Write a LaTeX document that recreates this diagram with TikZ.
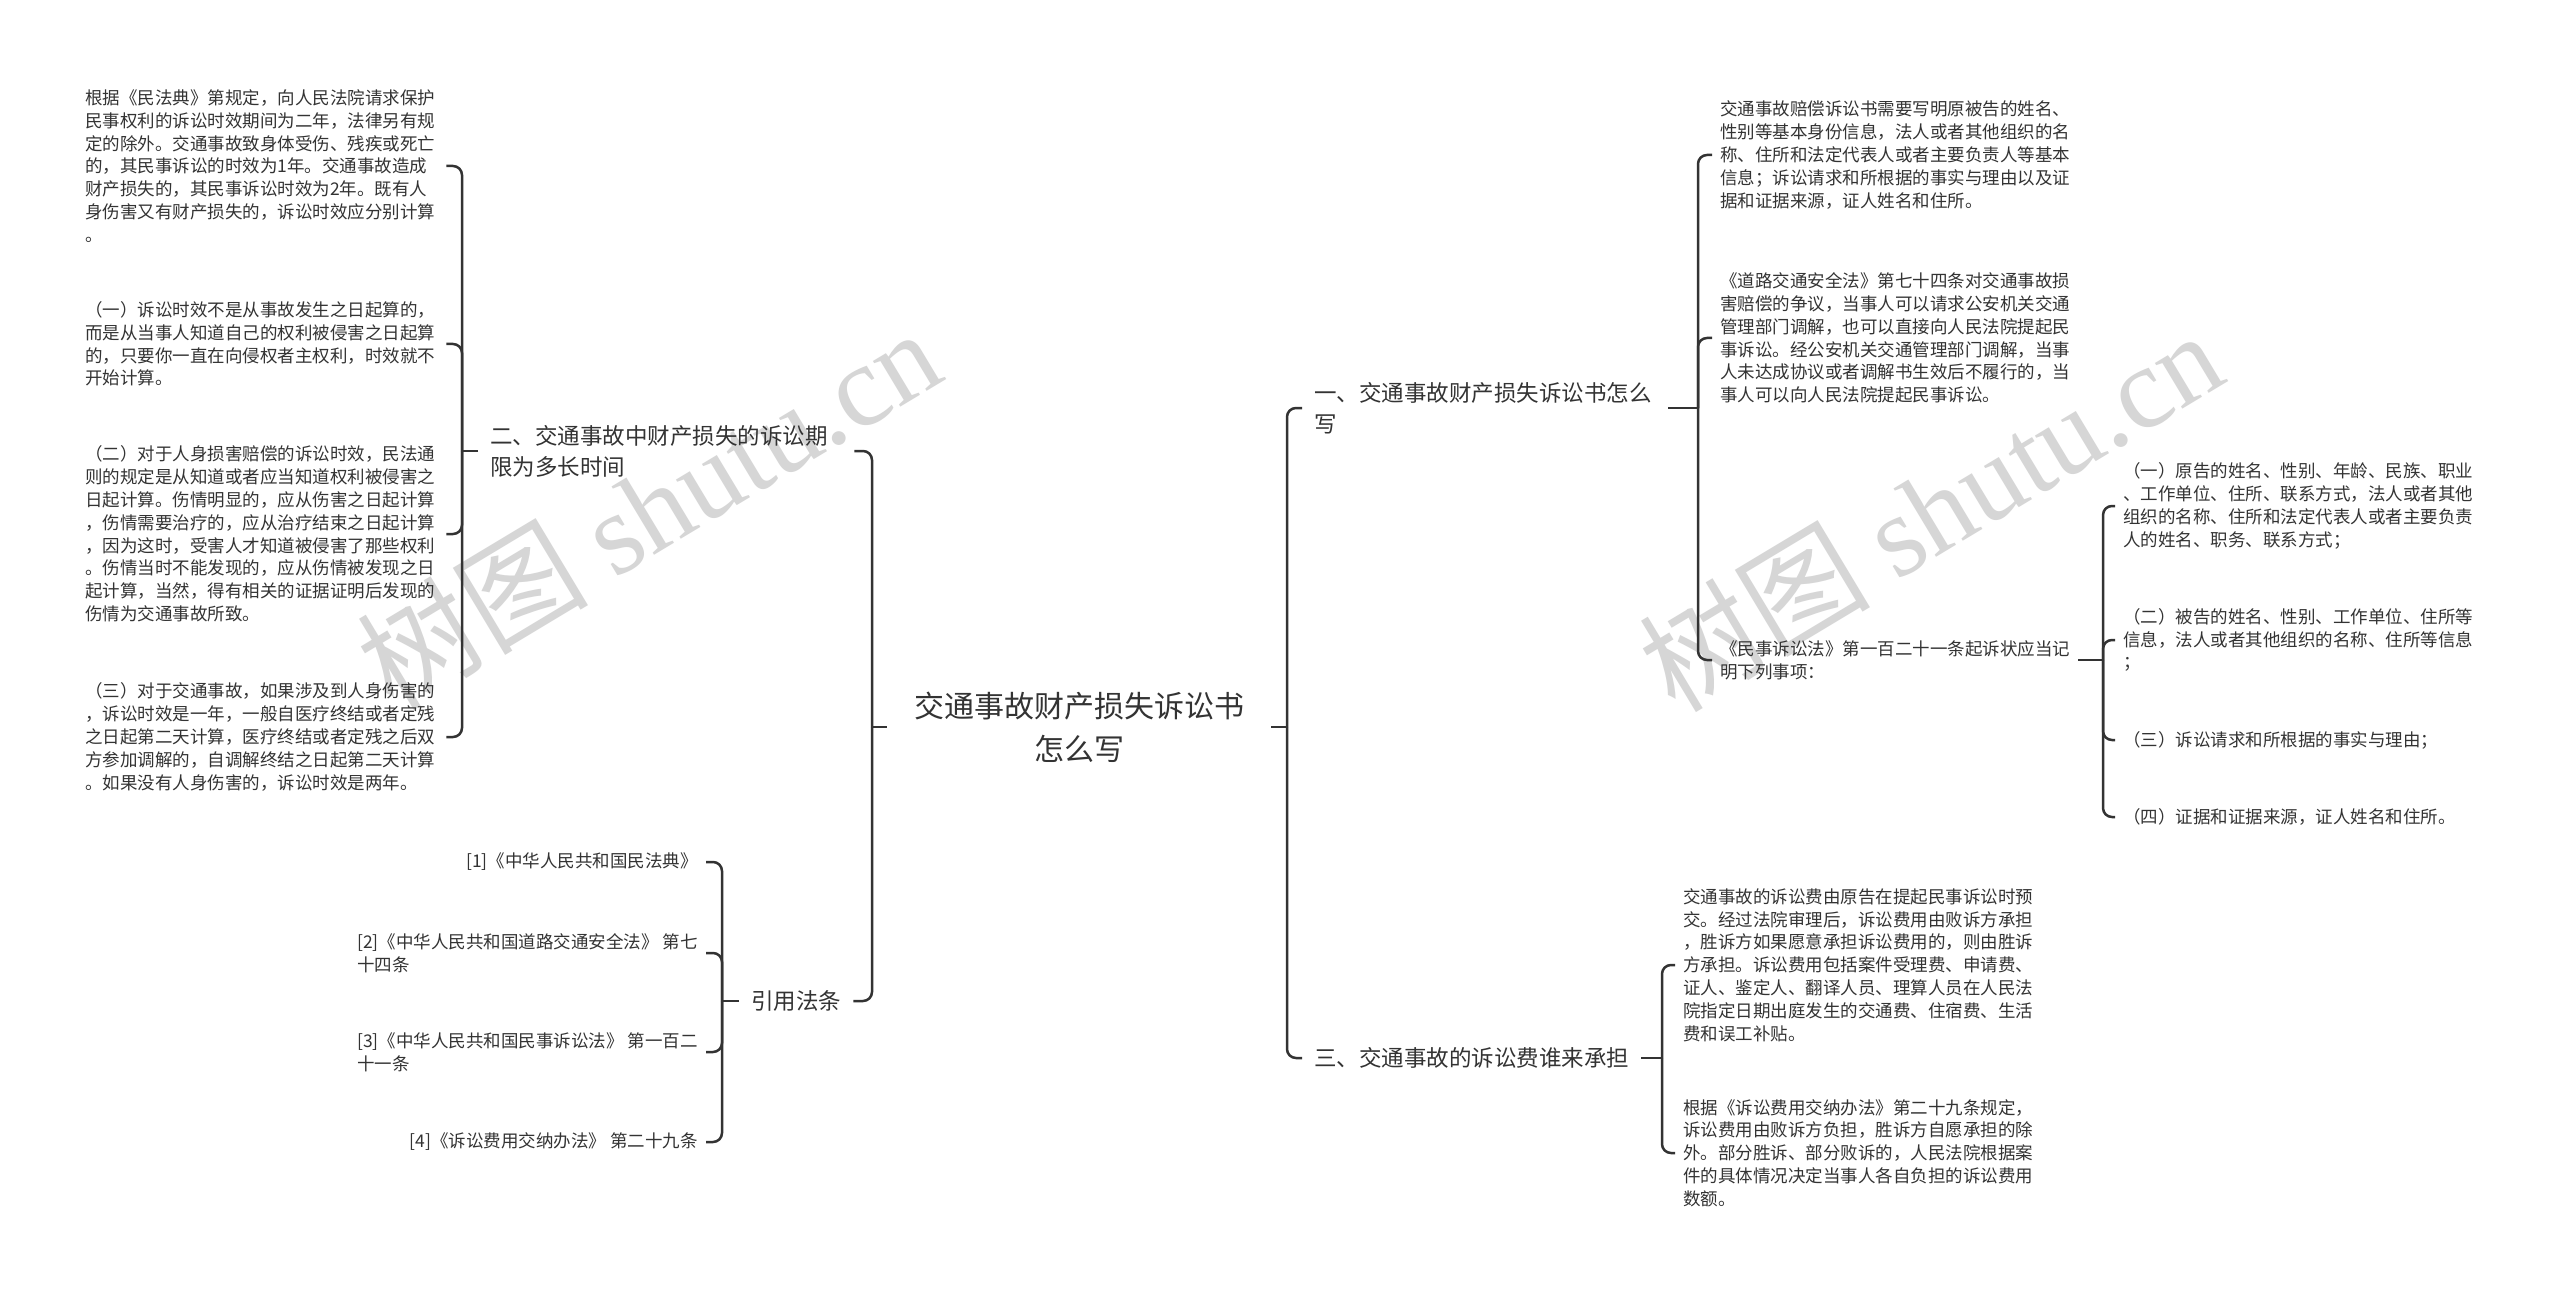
\documentclass[tikz,border=0pt]{standalone}
\usepackage{fontspec}
\setmainfont{Noto Sans CJK SC}
\newfontfamily\cjk{Noto Sans CJK SC}
\newfontfamily\wmserif{Liberation Serif}
\definecolor{ink}{HTML}{333333}
\definecolor{wmgray}{HTML}{D6D6D6}
\begin{document}
\begin{tikzpicture}[x=1pt,y=-1pt,
  conn/.style={line width=2.5pt,draw=ink,rounded corners=9pt},
  leaf/.style={font=\fontsize{17.5}{22.8}\selectfont,text=ink,align=left,inner xsep=8pt,inner ysep=2pt},
  leafw/.style={leaf,text width=353pt},
  lvl/.style={font=\fontsize{22.5}{31}\selectfont,text=ink,align=left,inner xsep=12pt,inner ysep=2pt},
  rootbox/.style={font=\fontsize{30}{43}\selectfont,text=ink,align=center,inner xsep=24pt,text width=336pt},
  wm/.style={text=wmgray,inner sep=0pt}
]
\useasboundingbox (0,0) rectangle (2560,1297);
\fill[white] (0,0) rectangle (2560,1297);

% watermarks
\node[wm,rotate=31] (wmA) at (648,508) {\fontsize{116}{116}\selectfont\cjk 树图 \wmserif shutu.cn};
\node[wm,rotate=31] (wmB) at (1930,510) {\fontsize{116}{116}\selectfont\cjk 树图 \wmserif shutu.cn};

% root
\node[rootbox] (root) at (1079,727) {交通事故财产损失诉讼书\\怎么写};

% level 1
\node[lvl,anchor=west,text width=352pt] (n2) at (478,451) {二、交通事故中财产损失的诉讼期\\限为多长时间};
\node[lvl,anchor=west] (nref) at (739,1001) {引用法条};
\node[lvl,anchor=west,text width=342pt] (n1) at (1302,408) {一、交通事故财产损失诉讼书怎么\\写};
\node[lvl,anchor=west] (n3) at (1302,1058) {三、交通事故的诉讼费谁来承担};

% children of n2
\node[leafw,anchor=west] (b1) at (77,166) {根据《民法典》第规定，向人民法院请求保护\\民事权利的诉讼时效期间为二年，法律另有规\\定的除外。交通事故致身体受伤、残疾或死亡\\的，其民事诉讼的时效为1年。交通事故造成\\财产损失的，其民事诉讼时效为2年。既有人\\身伤害又有财产损失的，诉讼时效应分别计算\\。};
\node[leafw,anchor=west] (b2) at (77,344) {（一）诉讼时效不是从事故发生之日起算的，\\而是从当事人知道自己的权利被侵害之日起算\\的，只要你一直在向侵权者主权利，时效就不\\开始计算。};
\node[leafw,anchor=west] (b3) at (77,534) {（二）对于人身损害赔偿的诉讼时效，民法通\\则的规定是从知道或者应当知道权利被侵害之\\日起计算。伤情明显的，应从伤害之日起计算\\，伤情需要治疗的，应从治疗结束之日起计算\\，因为这时，受害人才知道被侵害了那些权利\\。伤情当时不能发现的，应从伤情被发现之日\\起计算，当然，得有相关的证据证明后发现的\\伤情为交通事故所致。};
\node[leafw,anchor=west] (b4) at (77,737) {（三）对于交通事故，如果涉及到人身伤害的\\，诉讼时效是一年，一般自医疗终结或者定残\\之日起第二天计算，医疗终结或者定残之后双\\方参加调解的，自调解终结之日起第二天计算\\。如果没有人身伤害的，诉讼时效是两年。};

% children of nref
\node[leaf,anchor=east] (r1) at (706,862) {[1]《中华人民共和国民法典》};
\node[leaf,anchor=east] (r2) at (706,953) {[2]《中华人民共和国道路交通安全法》 第七\\十四条};
\node[leaf,anchor=east] (r3) at (706,1052) {[3]《中华人民共和国民事诉讼法》 第一百二\\十一条};
\node[leaf,anchor=east] (r4) at (706,1142) {[4]《诉讼费用交纳办法》 第二十九条};

% children of n1
\node[leafw,anchor=west] (c1) at (1712,155) {交通事故赔偿诉讼书需要写明原被告的姓名、\\性别等基本身份信息，法人或者其他组织的名\\称、住所和法定代表人或者主要负责人等基本\\信息；诉讼请求和所根据的事实与理由以及证\\据和证据来源，证人姓名和住所。};
\node[leafw,anchor=west] (c2) at (1712,338) {《道路交通安全法》第七十四条对交通事故损\\害赔偿的争议，当事人可以请求公安机关交通\\管理部门调解，也可以直接向人民法院提起民\\事诉讼。经公安机关交通管理部门调解，当事\\人未达成协议或者调解书生效后不履行的，当\\事人可以向人民法院提起民事诉讼。};
\node[leaf,anchor=west] (c3) at (1712,660) {《民事诉讼法》第一百二十一条起诉状应当记\\明下列事项：};

% children of c3
\node[leaf,anchor=west] (d1) at (2115,506) {（一）原告的姓名、性别、年龄、民族、职业\\、工作单位、住所、联系方式，法人或者其他\\组织的名称、住所和法定代表人或者主要负责\\人的姓名、职务、联系方式；};
\node[leaf,anchor=west] (d2) at (2115,640) {（二）被告的姓名、性别、工作单位、住所等\\信息，法人或者其他组织的名称、住所等信息\\；};
\node[leaf,anchor=west] (d3) at (2115,740) {（三）诉讼请求和所根据的事实与理由；};
\node[leaf,anchor=west] (d4) at (2115,817) {（四）证据和证据来源，证人姓名和住所。};

% children of n3
\node[leaf,anchor=west] (e1) at (1675,965) {交通事故的诉讼费由原告在提起民事诉讼时预\\交。经过法院审理后，诉讼费用由败诉方承担\\，胜诉方如果愿意承担诉讼费用的，则由胜诉\\方承担。诉讼费用包括案件受理费、申请费、\\证人、鉴定人、翻译人员、理算人员在人民法\\院指定日期出庭发生的交通费、住宿费、生活\\费和误工补贴。};
\node[leaf,anchor=west] (e2) at (1675,1153) {根据《诉讼费用交纳办法》第二十九条规定，\\诉讼费用由败诉方负担，胜诉方自愿承担的除\\外。部分胜诉、部分败诉的，人民法院根据案\\件的具体情况决定当事人各自负担的诉讼费用\\数额。};

% bracket junctions
\coordinate (kRootL) at (872,727);
\coordinate (kRootR) at (1287,727);
\coordinate (kN2) at (462,451);
\coordinate (kRef) at (722,1001);
\coordinate (kN1) at (1698,408);
\coordinate (kN3) at (1662,1058);
\coordinate (kC3) at (2103,660);

% connectors
\draw[conn] (root.west) -- (kRootL);
\draw[conn] (kRootL) |- (n2.east);
\draw[conn] (kRootL) |- (nref.east);
\draw[conn] (root.east) -- (kRootR);
\draw[conn] (kRootR) |- (n1.west);
\draw[conn] (kRootR) |- (n3.west);

\draw[conn] (n2.west) -- (kN2);
\draw[conn] (kN2) |- (b1.east);
\draw[conn] (kN2) |- (b2.east);
\draw[conn] (kN2) |- (b3.east);
\draw[conn] (kN2) |- (b4.east);

\draw[conn] (nref.west) -- (kRef);
\draw[conn] (kRef) |- (r1.east);
\draw[conn] (kRef) |- (r2.east);
\draw[conn] (kRef) |- (r3.east);
\draw[conn] (kRef) |- (r4.east);

\draw[conn] (n1.east) -- (kN1);
\draw[conn] (kN1) |- (c1.west);
\draw[conn] (kN1) |- (c2.west);
\draw[conn] (kN1) |- (c3.west);

\draw[conn] (c3.east) -- (kC3);
\draw[conn] (kC3) |- (d1.west);
\draw[conn] (kC3) |- (d2.west);
\draw[conn] (kC3) |- (d3.west);
\draw[conn] (kC3) |- (d4.west);

\draw[conn] (n3.east) -- (kN3);
\draw[conn] (kN3) |- (e1.west);
\draw[conn] (kN3) |- (e2.west);
\end{tikzpicture}
\end{document}
